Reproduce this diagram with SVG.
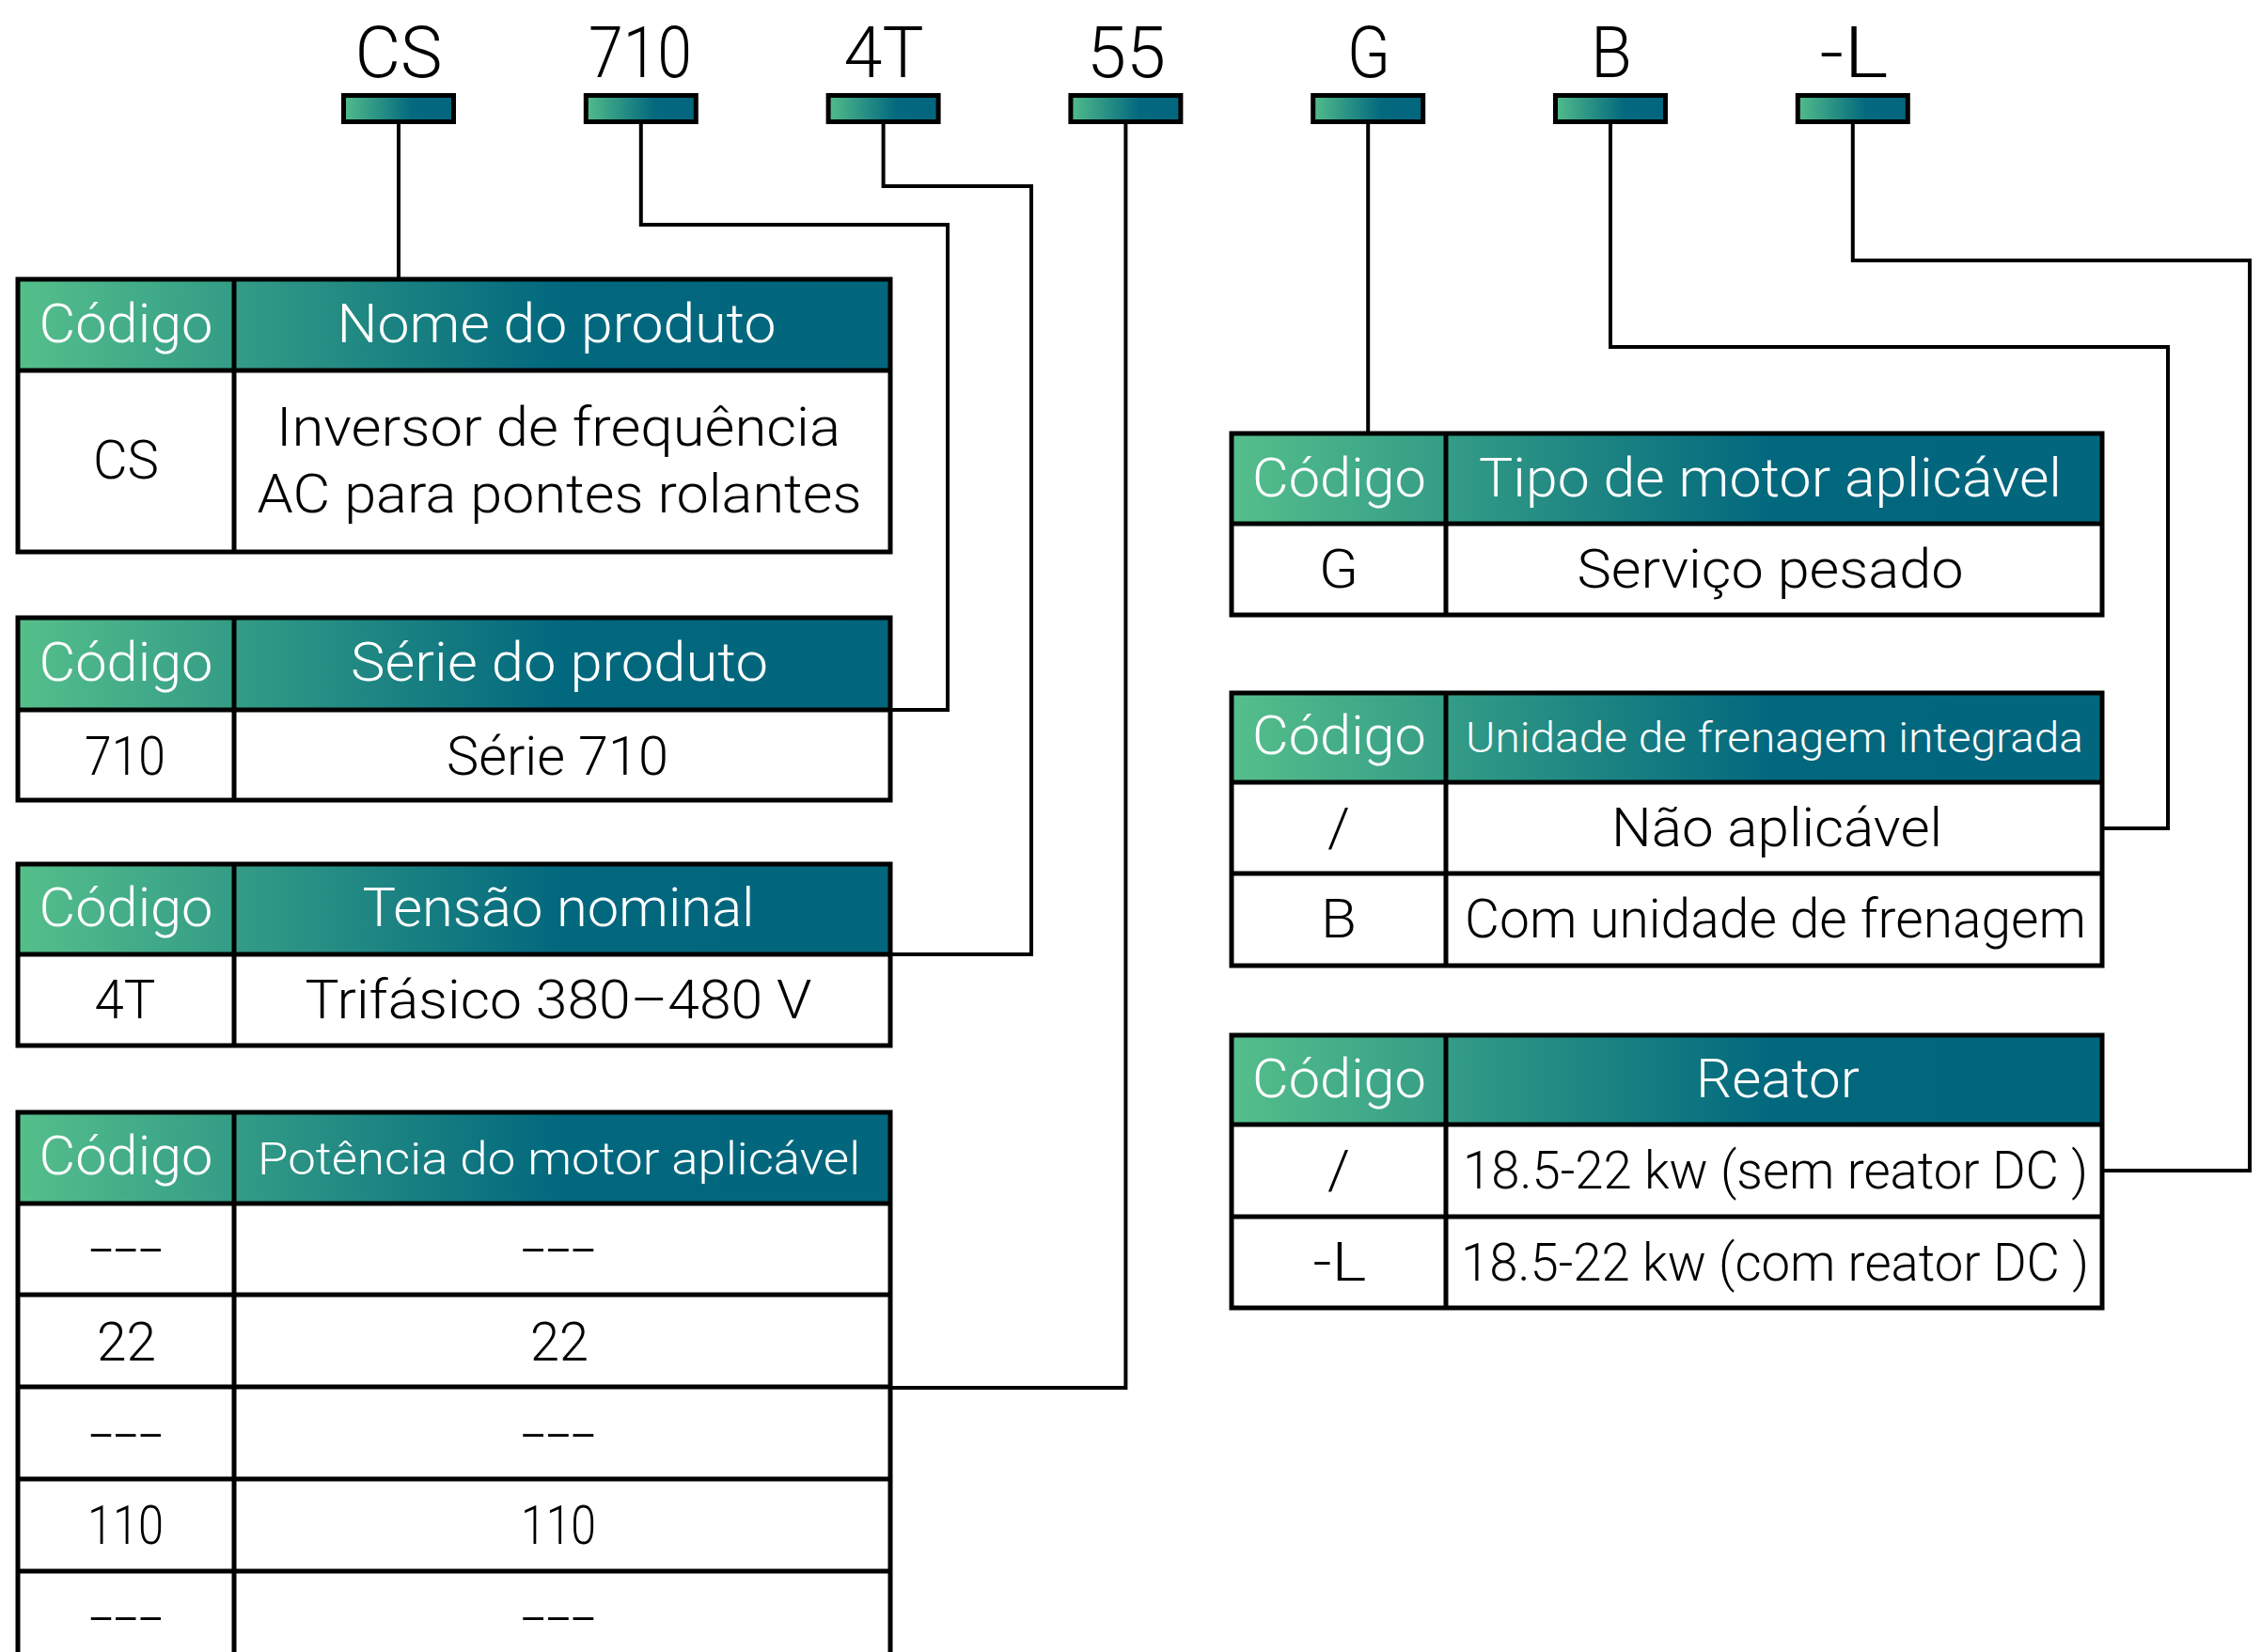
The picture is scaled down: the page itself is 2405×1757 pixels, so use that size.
<svg xmlns="http://www.w3.org/2000/svg" width="2405" height="1757" viewBox="0 0 2405 1757">
<defs>
<linearGradient id="hg" x1="0" y1="0" x2="1" y2="0">
<stop offset="0" stop-color="#55bf8b"/>
<stop offset="0.62" stop-color="#02687e"/>
<stop offset="1" stop-color="#02667d"/>
</linearGradient>
<linearGradient id="bg" x1="0" y1="0" x2="1" y2="0">
<stop offset="0" stop-color="#52bc8a"/>
<stop offset="0.62" stop-color="#03697f"/>
<stop offset="1" stop-color="#02667d"/>
</linearGradient>
<style>
text{font-family:Roboto,"Liberation Sans",sans-serif;font-weight:300;text-anchor:middle}
.lab{font-size:76px;fill:#000}
.h{font-size:57px;fill:#fff}
.hs{font-size:44px;fill:#fff}
.hm{font-size:49px;fill:#fff}
.b{font-size:58px;fill:#000}
.bs{font-size:56px;fill:#000}
.hd{fill:url(#hg)}
.ln{fill:none;stroke:#000;stroke-width:5}
.bar{fill:url(#bg);stroke:#000;stroke-width:5}
.cn{fill:none;stroke:#000;stroke-width:4}
</style>
</defs>
<rect x="0" y="0" width="2405" height="1757" fill="#fff"/>

<g id="connectors">
<path class="cn" d="M424 131V297"/>
<path class="cn" d="M681.8 131V239H1008V755H947"/>
<path class="cn" d="M939.6 131V198H1097V1015H947"/>
<path class="cn" d="M1197.4 131V1476H947"/>
<path class="cn" d="M1455.2 131V461"/>
<path class="cn" d="M1713 131V369H2306V881H2236"/>
<path class="cn" d="M1970.8 131V277H2393V1245H2236"/>
</g>

<g id="code-CS"><text class="lab" x="424" y="82" textLength="93" lengthAdjust="spacingAndGlyphs">CS</text><rect class="bar" x="365.5" y="101.5" width="117" height="28"/></g>
<g id="code-710"><text class="lab" x="681" y="82" textLength="110" lengthAdjust="spacingAndGlyphs">710</text><rect class="bar" x="623.3" y="101.5" width="117" height="28"/></g>
<g id="code-4T"><text class="lab" x="940" y="82" textLength="85" lengthAdjust="spacingAndGlyphs">4T</text><rect class="bar" x="881.1" y="101.5" width="117" height="28"/></g>
<g id="code-55"><text class="lab" x="1198" y="82" textLength="84" lengthAdjust="spacingAndGlyphs">55</text><rect class="bar" x="1138.9" y="101.5" width="117" height="28"/></g>
<g id="code-G"><text class="lab" x="1456" y="82" textLength="46" lengthAdjust="spacingAndGlyphs">G</text><rect class="bar" x="1396.7" y="101.5" width="117" height="28"/></g>
<g id="code-B"><text class="lab" x="1714" y="82" textLength="44" lengthAdjust="spacingAndGlyphs">B</text><rect class="bar" x="1654.5" y="101.5" width="117" height="28"/></g>
<g id="code-L"><text class="lab" x="1972" y="82" textLength="73" lengthAdjust="spacingAndGlyphs">-L</text><rect class="bar" x="1912.3" y="101.5" width="117" height="28"/></g>

<g id="table-nome">
<rect class="hd" x="19" y="297" width="928" height="97"/>
<rect class="ln" x="19" y="297" width="928" height="290"/>
<path class="ln" d="M19 394H947M249 297V587"/>
<text class="h" x="134" y="364" textLength="185" lengthAdjust="spacingAndGlyphs">Código</text>
<text class="h" x="592" y="364" textLength="467" lengthAdjust="spacingAndGlyphs">Nome do produto</text>
<text class="b" x="134" y="509" textLength="70" lengthAdjust="spacingAndGlyphs">CS</text>
<text class="b" x="594" y="474" textLength="600" lengthAdjust="spacingAndGlyphs">Inversor de frequência</text>
<text class="b" x="595" y="545" textLength="643" lengthAdjust="spacingAndGlyphs">AC para pontes rolantes</text>
</g>

<g id="table-serie">
<rect class="hd" x="19" y="657" width="928" height="98"/>
<rect class="ln" x="19" y="657" width="928" height="194"/>
<path class="ln" d="M19 755H947M249 657V851"/>
<text class="h" x="134" y="724" textLength="185" lengthAdjust="spacingAndGlyphs">Código</text>
<text class="h" x="595" y="724" textLength="444" lengthAdjust="spacingAndGlyphs">Série do produto</text>
<text class="b" x="133" y="824" textLength="86" lengthAdjust="spacingAndGlyphs">710</text>
<text class="b" x="593" y="824" textLength="236" lengthAdjust="spacingAndGlyphs">Série 710</text>
</g>

<g id="table-tensao">
<rect class="hd" x="19" y="919" width="928" height="96"/>
<rect class="ln" x="19" y="919" width="928" height="193"/>
<path class="ln" d="M19 1015H947M249 919V1112"/>
<text class="h" x="134" y="985" textLength="185" lengthAdjust="spacingAndGlyphs">Código</text>
<text class="h" x="594" y="985" textLength="417" lengthAdjust="spacingAndGlyphs">Tensão nominal</text>
<text class="b" x="133" y="1083" textLength="65" lengthAdjust="spacingAndGlyphs">4T</text>
<text class="b" x="594" y="1083" textLength="539" lengthAdjust="spacingAndGlyphs">Trifásico 380–480 V</text>
</g>

<g id="table-potencia">
<rect class="hd" x="19" y="1183" width="928" height="97"/>
<rect class="ln" x="19" y="1183" width="928" height="586"/>
<path class="ln" d="M19 1280H947M19 1377H947M19 1475H947M19 1573H947M19 1671H947M249 1183V1769"/>
<text class="h" x="134" y="1249" textLength="185" lengthAdjust="spacingAndGlyphs">Código</text>
<text class="hm" x="594.5" y="1249" textLength="641" lengthAdjust="spacingAndGlyphs">Potência do motor aplicável</text>
<text class="b" x="134" y="1348" textLength="79" lengthAdjust="spacingAndGlyphs">---</text>
<text class="b" x="594" y="1348" textLength="80" lengthAdjust="spacingAndGlyphs">---</text>
<text class="b" x="134.5" y="1447" textLength="63" lengthAdjust="spacingAndGlyphs">22</text>
<text class="b" x="595" y="1447" textLength="62" lengthAdjust="spacingAndGlyphs">22</text>
<text class="b" x="134" y="1545" textLength="79" lengthAdjust="spacingAndGlyphs">---</text>
<text class="b" x="594" y="1545" textLength="80" lengthAdjust="spacingAndGlyphs">---</text>
<text class="b" x="133.5" y="1642" textLength="81" lengthAdjust="spacingAndGlyphs">110</text>
<text class="b" x="594" y="1642" textLength="80" lengthAdjust="spacingAndGlyphs">110</text>
<text class="b" x="134" y="1740" textLength="79" lengthAdjust="spacingAndGlyphs">---</text>
<text class="b" x="594" y="1740" textLength="80" lengthAdjust="spacingAndGlyphs">---</text>
</g>

<g id="table-motor">
<rect class="hd" x="1310" y="461" width="926" height="96"/>
<rect class="ln" x="1310" y="461" width="926" height="193"/>
<path class="ln" d="M1310 557H2236M1538 461V654"/>
<text class="h" x="1424.5" y="528" textLength="185" lengthAdjust="spacingAndGlyphs">Código</text>
<text class="h" x="1883" y="528" textLength="620" lengthAdjust="spacingAndGlyphs">Tipo de motor aplicável</text>
<text class="b" x="1424" y="625" textLength="42" lengthAdjust="spacingAndGlyphs">G</text>
<text class="b" x="1883" y="625" textLength="411" lengthAdjust="spacingAndGlyphs">Serviço pesado</text>
</g>

<g id="table-frenagem">
<rect class="hd" x="1310" y="737" width="926" height="95"/>
<rect class="ln" x="1310" y="737" width="926" height="290"/>
<path class="ln" d="M1310 832H2236M1310 929H2236M1538 737V1027"/>
<text class="h" x="1424.5" y="802" textLength="185" lengthAdjust="spacingAndGlyphs">Código</text>
<text class="hs" x="1887.5" y="800" textLength="657" lengthAdjust="spacingAndGlyphs">Unidade de frenagem integrada</text>
<text class="b" x="1424" y="900" textLength="24" lengthAdjust="spacingAndGlyphs">/</text>
<text class="b" x="1890" y="900" textLength="352" lengthAdjust="spacingAndGlyphs">Não aplicável</text>
<text class="b" x="1424" y="997" textLength="38" lengthAdjust="spacingAndGlyphs">B</text>
<text class="b" x="1888.5" y="997" textLength="661" lengthAdjust="spacingAndGlyphs">Com unidade de frenagem</text>
</g>

<g id="table-reator">
<rect class="hd" x="1310" y="1101" width="926" height="95"/>
<rect class="ln" x="1310" y="1101" width="926" height="290"/>
<path class="ln" d="M1310 1196H2236M1310 1294H2236M1538 1101V1391"/>
<text class="h" x="1424.5" y="1167" textLength="185" lengthAdjust="spacingAndGlyphs">Código</text>
<text class="h" x="1891" y="1167" textLength="174" lengthAdjust="spacingAndGlyphs">Reator</text>
<text class="b" x="1424" y="1264" textLength="24" lengthAdjust="spacingAndGlyphs">/</text>
<text class="bs" x="1888.5" y="1264" textLength="665" lengthAdjust="spacingAndGlyphs">18.5-22 kw (sem reator DC )</text>
<text class="b" x="1425" y="1362" textLength="57" lengthAdjust="spacingAndGlyphs">-L</text>
<text class="bs" x="1888" y="1362" textLength="668" lengthAdjust="spacingAndGlyphs">18.5-22 kw (com reator DC )</text>
</g>
</svg>
